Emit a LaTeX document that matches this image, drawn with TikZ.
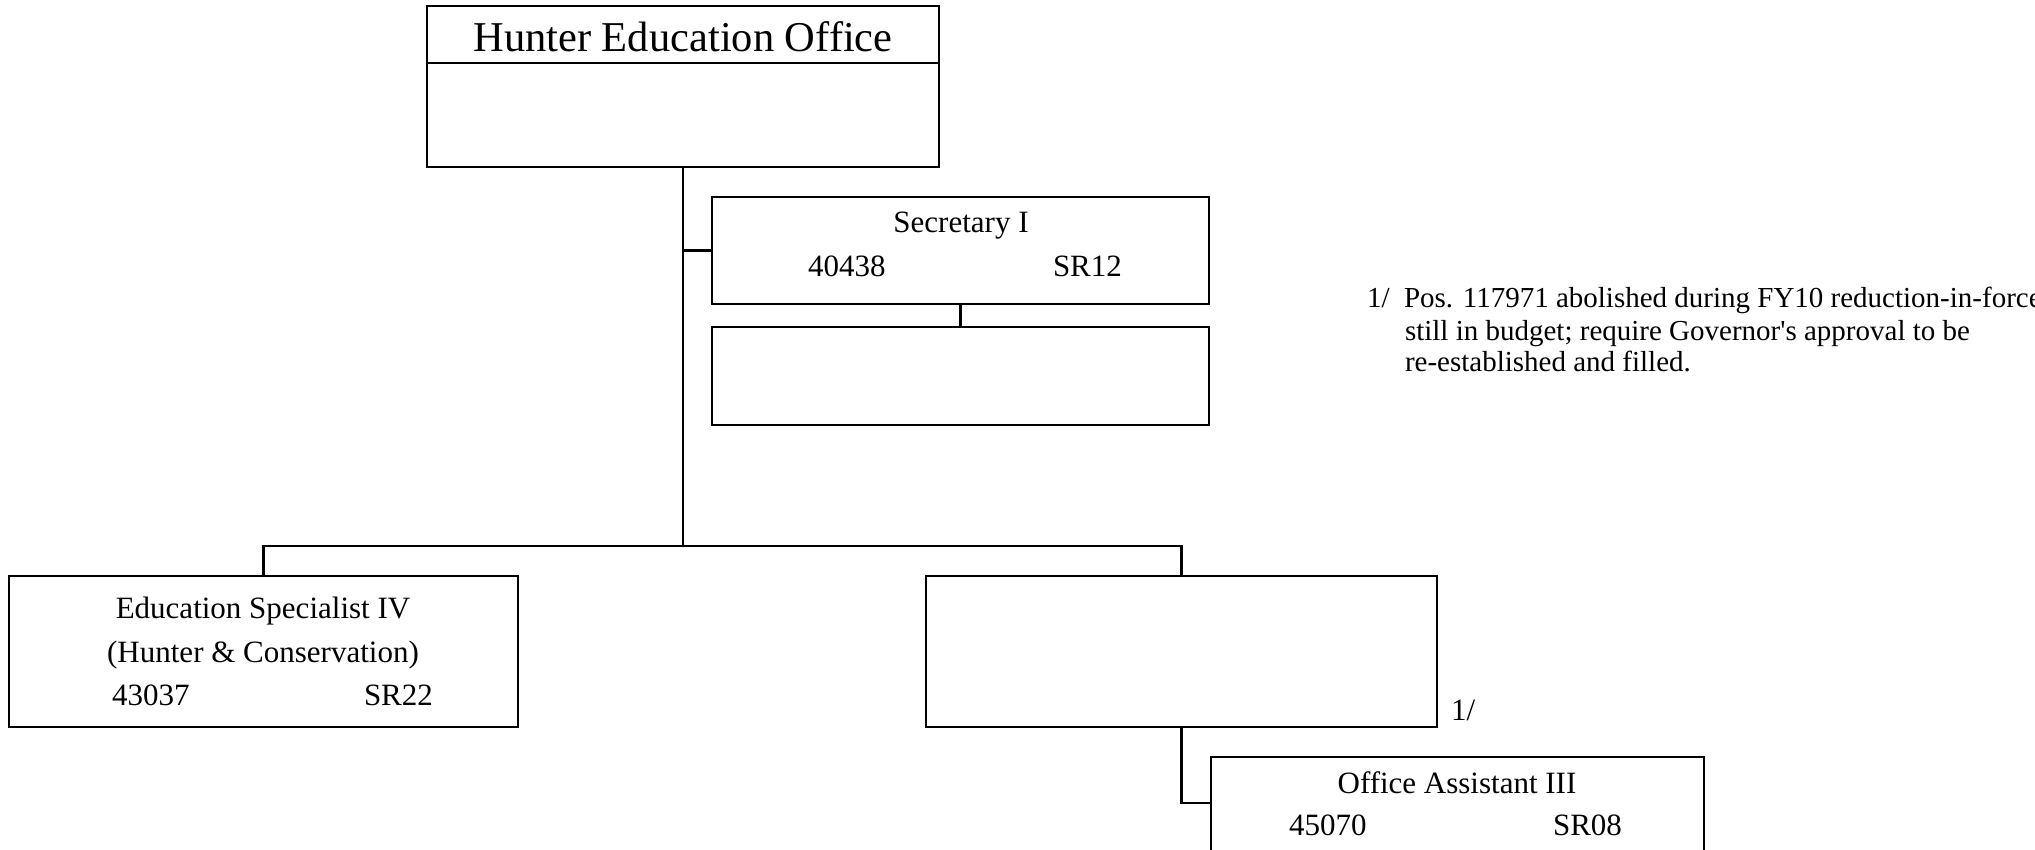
\documentclass[tikz,border=0pt]{standalone}
\usepackage{fontspec}
\setmainfont{Liberation Serif}[Ligatures=TeXOff]
\begin{document}
\begin{tikzpicture}[x=1pt,y=-1pt,
  box/.style={draw,line width=2.4pt,anchor=north west,inner sep=0pt,outer sep=0pt},
  conn/.style={line width=2.4pt},
  txt/.style={inner sep=0pt,outer sep=0pt,font=\fontsize{31}{36}\selectfont},
  ttl/.style={inner sep=0pt,outer sep=0pt,font=\fontsize{42.5}{48}\selectfont},
  notetxt/.style={inner sep=0pt,outer sep=0pt,anchor=base west,font=\fontsize{29}{33}\selectfont}]
\useasboundingbox (0,0) rectangle (2035,849);
% boxes
\node[box,minimum width=512pt,minimum height=161pt] (heo) at (427,6) {};
\draw[line width=1.2pt] (heo.west |- 0,63) coordinate (dl) -- (heo.east |- dl);
\node[ttl,anchor=base] (heot) at (683,51) {Hunter Education Office};
\node[box,minimum width=497pt,minimum height=107pt] (sec) at (712,197) {};
\node[box,minimum width=497pt,minimum height=98pt] (secb) at (712,327) {};
\node[box,minimum width=509pt,minimum height=151pt] (ed) at (9,576) {};
\node[box,minimum width=511pt,minimum height=151pt] (rb) at (926,576) {};
\node[box,minimum width=493pt,minimum height=120pt] (oa) at (1211,757) {};
% texts
\node[txt,anchor=base] (sect) at (961,232) {Secretary I};
\node[txt,anchor=base west] (secn) at (808,276) {40438};
\node[txt,anchor=base west] (secg) at (1053,276) {SR12};
\node[txt,anchor=base] (edt1) at (263,618) {Education Specialist IV};
\node[txt,anchor=base] (edt2) at (263,662) {(Hunter \& Conservation)};
\node[txt,anchor=base west] (edn) at (112,705) {43037};
\node[txt,anchor=base west] (edg) at (364,705) {SR22};
\node[txt,anchor=base west] (fn) at (1451,720) {1/};
\node[txt,anchor=base] (oat) at (1457,793) {Office Assistant III};
\node[txt,anchor=base west] (oan) at (1289,835) {45070};
\node[txt,anchor=base west] (oag) at (1553,835) {SR08};
\node[notetxt] (n1a) at (1367,307) {1/};
\node[notetxt] (n1b) at (1404,307) {Pos. 117971 abolished during FY10 reduction-in-force;};
\node[notetxt] (n2) at (1405,340) {still in budget; require Governor's approval to be};
\node[notetxt] (n3) at (1405,371) {re-established and filled.};
% connectors
\coordinate (bar) at (683,546);
\draw[conn] (heo.south) -- (bar);
\draw[conn] (ed.north) |- (bar) -| (rb.north);
\draw[conn] (heo.south |- sec.west) -- (sec.west);
\draw[conn] (sec.south) -- (secb.north);
\draw[conn] (rb.south) |- ([yshift=-46pt]oa.north west);
\end{tikzpicture}
\end{document}
